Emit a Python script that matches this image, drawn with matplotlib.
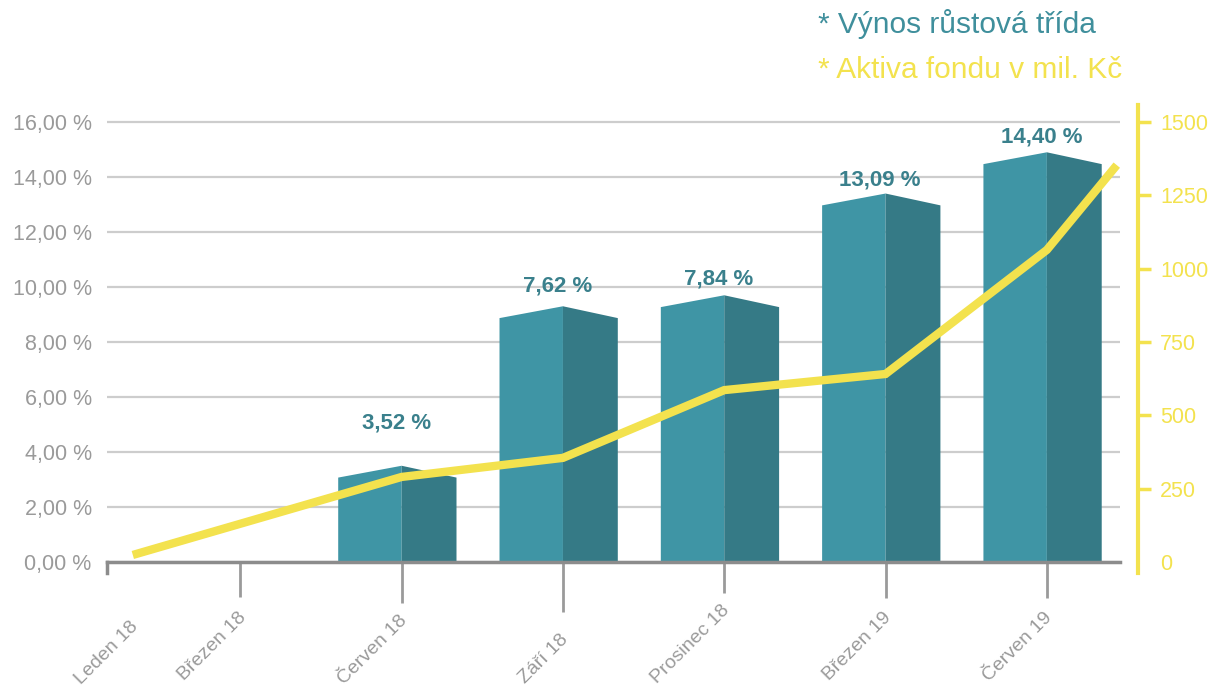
import matplotlib
matplotlib.use("Agg")
import matplotlib.pyplot as plt
import matplotlib.transforms as mtransforms
import numpy as np

plt.rcParams['font.family'] = ['Liberation Sans', 'DejaVu Sans']

# months since Jan 2018
months = [0, 2, 5, 8, 11, 14, 17]
month_labels = ["Leden 18", "Březen 18", "Červen 18", "Září 18", "Prosinec 18", "Březen 19", "Červen 19"]

# return (left axis, %)
bar_months = [5, 8, 11, 14, 17]
bar_heights = [3.5, 9.3, 9.7, 13.4, 14.9]
bar_labels = [3.52, 7.62, 7.84, 13.09, 14.40]

# fund assets (right axis, mil. Kč)
line_months = [0, 5, 8, 11, 14, 17, 18.3]
line_values = [24, 290, 355, 586, 641, 1064, 1353]

teal_light = "#3f95a5"
teal_dark = "#357a86"
teal_text = "#3a808c"
yellow = "#f3e24e"
gray = "#9a9a9a"

# tick lengths / label gaps under the x axis (pixels), as drawn in the source
tick_len_px = [40, 35, 41, 50, 31, 36, 36]
label_gap_px = [16, 12, 9, 19, 9, 11, 11]

fig = plt.figure(figsize=(12.16, 6.86), dpi=100)
ax = fig.add_axes([107 / 1216, 1 - 573 / 686, (1120 - 107) / 1216, 468 / 686])
ax2 = ax.twinx()

# spine positions first (set_position resets ticks)
for s in ["top", "right"]:
    ax.spines[s].set_visible(False)
ax.spines["bottom"].set_position(("data", 0))
ax.spines["bottom"].set_color("#8c8c8c")
ax.spines["bottom"].set_linewidth(2.5)
ax.spines["left"].set_bounds(-0.4, 0)
ax.spines["left"].set_color("#8c8c8c")
ax.spines["left"].set_linewidth(2.5)
for s in ["top", "bottom", "left"]:
    ax2.spines[s].set_visible(False)
ax2.spines["right"].set_position(("outward", 13))
ax2.spines["right"].set_color(yellow)
ax2.spines["right"].set_linewidth(3)

ax.set_xlim(-0.48, 18.36)
ax.set_ylim(-0.4, 16.62)

# 3d-looking bars: lighter left face, darker right face, peaked top
wl, wr, drop = 1.18, 1.02, 0.43
for m, h in zip(bar_months, bar_heights):
    ax.fill([m - wl, m - wl, m, m], [0, h - drop, h, 0], color=teal_light, lw=0, zorder=2)
    ax.fill([m, m, m + wr, m + wr], [0, h, h - drop, 0], color=teal_dark, lw=0, zorder=2)

label_offsets = [1.55, 0.75, 0.6, 0.5, 0.55]
for m, h, v, off in zip(bar_months, bar_heights, bar_labels, label_offsets):
    ax.text(m - 0.1, h + off, f"{v:.2f} %".replace(".", ","), ha="center", va="center",
            fontsize=16, fontweight="bold", color=teal_text, zorder=3)

ax.set_yticks(np.arange(0, 17, 2))
ax.set_yticklabels([f"{v:.2f} %".replace(".", ",") for v in np.arange(0, 17, 2)])
ax.yaxis.grid(True, color="#cdcdcd", lw=1.6)
ax.set_axisbelow(True)
ax.tick_params(axis="y", length=0, pad=11, labelsize=15.5, labelcolor=gray)

ax.set_xticks(months)
ax.set_xticklabels(month_labels)
ax.tick_params(axis="x", width=2, color=gray, labelsize=14, labelcolor=gray,
               labelrotation=45)
for tick, L, g in zip(ax.xaxis.get_major_ticks(), tick_len_px, label_gap_px):
    tick._apply_params(size=L * 0.72, pad=g * 0.72)
ax.xaxis.get_major_ticks()[0].tick1line.set_visible(False)
shift = mtransforms.ScaledTranslation(9 / 100, 0, fig.dpi_scale_trans)
for lab in ax.get_xticklabels():
    lab.set_ha("right")
    lab.set_va("top")
    lab.set_transform(lab.get_transform() + shift)

ax2.set_ylim(-37.5, 1558)
ax2.plot(line_months, line_values, color=yellow, lw=6, solid_capstyle="butt",
         solid_joinstyle="miter", clip_on=False, zorder=4)
ax2.set_yticks([0, 250, 500, 750, 1000, 1250, 1500])
ax2.tick_params(axis="y", length=9, width=2.5, color=yellow, labelcolor=yellow,
                labelsize=15.5, pad=7)
ax2.yaxis.get_major_ticks()[0].tick2line.set_visible(False)

fig.text(818 / 1216, 1 - 24 / 686, "* Výnos růstová třída", fontsize=21.5,
         color="#3f8f9c", ha="left", va="center")
fig.text(818 / 1216, 1 - 70 / 686, "* Aktiva fondu v mil. Kč", fontsize=21.5,
         color=yellow, ha="left", va="center")

fig.savefig("out.png", dpi=100)
